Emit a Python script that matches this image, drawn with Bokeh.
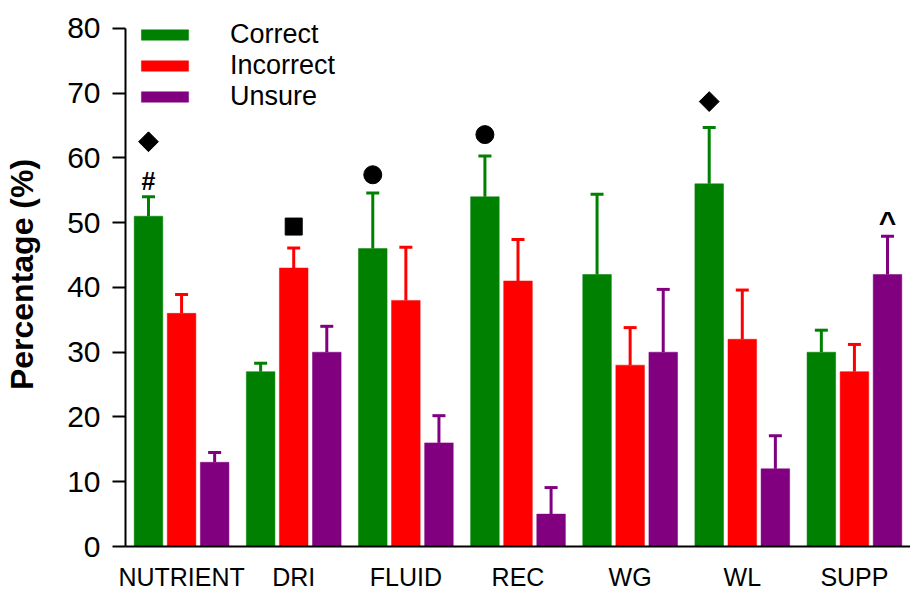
import numpy as np
from bokeh.plotting import figure
from bokeh.models import (ColumnDataSource, FactorRange, Range1d, FixedTicker,
                          Legend, LegendItem)
from bokeh.transform import dodge
from bokeh.core.properties import value
from bokeh.embed import file_html
from bokeh.resources import INLINE

# ---- data ----
categories = ["NUTRIENT", "DRI", "FLUID", "REC", "WG", "WL", "SUPP"]
series = ["Correct", "Incorrect", "Unsure"]
correct = [51, 27, 46, 54, 42, 56, 30]
incorrect = [36, 43, 38, 41, 28, 32, 27]
unsure = [13, 30, 16, 5, 30, 12, 42]
correct_err = [3.0, 1.3, 8.6, 6.3, 12.4, 8.7, 3.4]
incorrect_err = [2.9, 3.1, 8.2, 6.4, 5.8, 7.6, 4.2]
unsure_err = [1.5, 4.0, 4.2, 4.1, 9.7, 5.1, 5.9]
y_ticks = [0, 10, 20, 30, 40, 50, 60, 70, 80]

# significance symbols: category, series, symbol, y position
sig_cat = ["NUTRIENT", "NUTRIENT", "DRI", "FLUID", "REC", "WL", "SUPP"]
sig_series = ["Correct", "Correct", "Incorrect", "Correct", "Correct", "Correct", "Unsure"]
sig_symbol = ["diamond", "#", "square", "circle", "circle", "diamond", "^"]
sig_y = [62.5, 56.5, 49.4, 57.4, 63.6, 68.7, 50.2]

colors = {"Correct": "#008000", "Incorrect": "#FF0000", "Unsure": "#800080"}
offsets = {"Correct": -0.295, "Incorrect": 0.0, "Unsure": 0.295}
vals = {"Correct": correct, "Incorrect": incorrect, "Unsure": unsure}
errs = {"Correct": correct_err, "Incorrect": incorrect_err, "Unsure": unsure_err}

FONT = "Liberation Sans"

p = figure(width=910, height=593, output_backend="svg", toolbar_location=None,
           x_range=FactorRange(factors=categories, range_padding=0),
           y_range=Range1d(0, 84),
           min_border_left=125, min_border_right=0, min_border_top=2,
           min_border_bottom=45)
p.outline_line_color = None
p.xgrid.grid_line_color = None
p.ygrid.grid_line_color = None
p.background_fill_color = "white"
p.border_fill_color = "white"

renderers = {}
for s in series:
    v = vals[s]
    e = errs[s]
    src = ColumnDataSource(dict(cat=categories, top=v,
                                upper=[a + b for a, b in zip(v, e)]))
    xd = dodge("cat", offsets[s], range=p.x_range)
    r = p.vbar(x=xd, top="top", bottom=0, width=0.255, source=src,
               fill_color=colors[s], line_color=colors[s], line_width=0.5)
    renderers[s] = r
    p.segment(x0=xd, y0="top", x1=xd, y1="upper", source=src,
              line_color=colors[s], line_width=3)
    p.scatter(x=xd, y="upper", source=src, marker="dash", size=13,
              line_color=colors[s], line_width=3)

# significance markers
for i, sym in enumerate(sig_symbol):
    src = ColumnDataSource(dict(cat=[sig_cat[i]], y=[sig_y[i]], t=[sym]))
    xd = dodge("cat", offsets[sig_series[i]], range=p.x_range)
    if sym == "diamond":
        p.scatter(x=xd, y="y", source=src, marker="square", size=14,
                  angle=np.pi / 4, fill_color="black", line_color="black")
    elif sym == "square":
        p.scatter(x=xd, y="y", source=src, marker="square", size=17,
                  fill_color="black", line_color="black")
    elif sym == "circle":
        p.scatter(x=xd, y="y", source=src, marker="circle", size=18,
                  fill_color="black", line_color="black")
    else:
        p.text(x=xd, y="y", text="t", source=src, text_align="center",
               text_baseline="middle", text_color="black",
               text_font=value(FONT), text_font_style="bold",
               text_font_size="25px" if sym == "#" else "30px")

# axes
p.yaxis.ticker = FixedTicker(ticks=y_ticks)
p.yaxis.bounds = (0, 80)
p.yaxis.minor_tick_line_color = None
p.yaxis.major_tick_out = 13
p.yaxis.major_tick_in = 0
p.yaxis.major_tick_line_width = 2
p.yaxis.axis_line_width = 2
p.yaxis.major_label_standoff = 12
p.yaxis.major_label_text_font = FONT
p.yaxis.major_label_text_font_size = "30px"
p.yaxis.major_label_text_color = "black"
p.yaxis.axis_label = "Percentage (%)"
p.yaxis.axis_label_text_font = FONT
p.yaxis.axis_label_text_font_style = "bold"
p.yaxis.axis_label_text_font_size = "32px"
p.yaxis.axis_label_text_color = "black"
p.yaxis.axis_label_standoff = 24

p.xaxis.axis_line_width = 2
p.xaxis.major_tick_line_color = None
p.xaxis.minor_tick_line_color = None
p.xaxis.major_tick_out = 0
p.xaxis.major_tick_in = 0
p.xaxis.major_label_standoff = 16
p.xaxis.major_label_text_font = FONT
p.xaxis.major_label_text_font_size = "25px"
p.xaxis.major_label_text_color = "black"

legend = Legend(items=[LegendItem(label=s, renderers=[renderers[s]]) for s in series],
                location=(10, 434), orientation="vertical",
                glyph_width=59, glyph_height=13, label_standoff=36,
                label_text_font=FONT, label_text_font_size="27px",
                label_text_color="black",
                padding=0, spacing=0, margin=0,
                border_line_alpha=0, background_fill_alpha=0)
p.add_layout(legend)

open("out.html", "w").write(file_html(p, INLINE))
